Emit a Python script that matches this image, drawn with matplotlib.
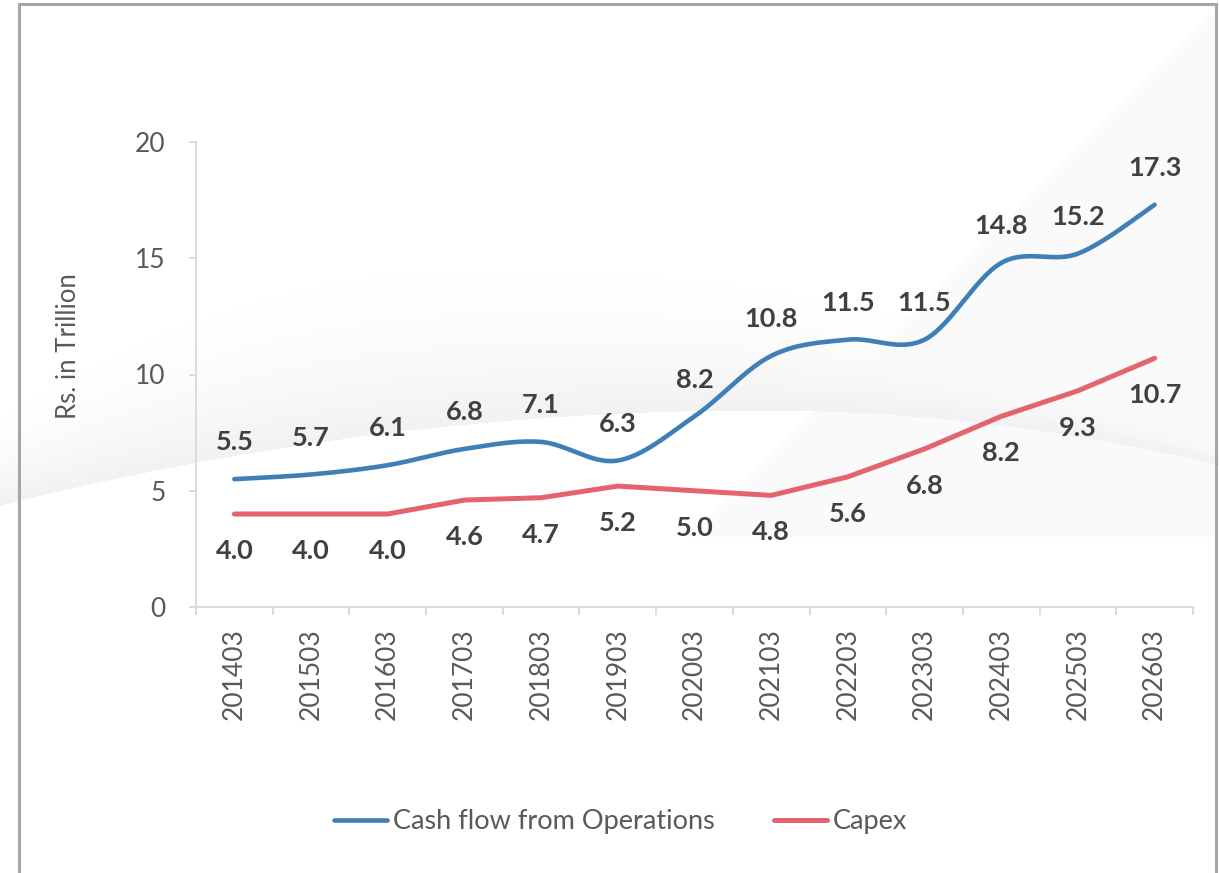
import numpy as np
import matplotlib.pyplot as plt
from matplotlib.lines import Line2D

years = ['201403', '201503', '201603', '201703', '201803', '201903', '202003',
         '202103', '202203', '202303', '202403', '202503', '202603']
cfo = [5.5, 5.7, 6.1, 6.8, 7.1, 6.3, 8.2, 10.8, 11.5, 11.5, 14.8, 15.2, 17.3]
capex = [4.0, 4.0, 4.0, 4.6, 4.7, 5.2, 5.0, 4.8, 5.6, 6.8, 8.2, 9.3, 10.7]

BLUE = '#3f7fb8'
RED = '#e5636e'
TXT = '#404040'
TICK = '#595959'
FONT = 'Lato'

W, H = 1219, 873
fig = plt.figure(figsize=(W / 100, H / 100), dpi=100)
fig.patch.set_facecolor('white')


def smooth(xs, ys, sx, sy, n=40):
    # catmull-rom style bezier through the points (like a "smoothed line")
    p = np.column_stack([np.asarray(xs, float) * sx, np.asarray(ys, float) * sy])
    out = [p[0]]
    t = np.linspace(0, 1, n)[1:, None]
    for i in range(len(p) - 1):
        p0 = p[i - 1] if i > 0 else p[i]
        p1, p2 = p[i], p[i + 1]
        p3 = p[i + 2] if i + 2 < len(p) else p[i + 1]
        c1 = p1 + (p2 - p0) / 6
        c2 = p2 - (p3 - p1) / 6
        seg = ((1 - t) ** 3) * p1 + 3 * ((1 - t) ** 2) * t * c1 + 3 * (1 - t) * t ** 2 * c2 + t ** 3 * p2
        out.extend(seg)
    out = np.array(out)
    return out[:, 0] / sx, out[:, 1] / sy


# background: faint swoosh band + diagonal panel
bg = fig.add_axes([0, 0, 1, 1], zorder=-5)
bg.set_xlim(0, W)
bg.set_ylim(H, 0)
bg.axis('off')
gx, gy = np.meshgrid(np.arange(W), np.arange(H))
img = np.ones((H, W))
up = np.where(gx < 450, 205 + 175 * ((gx - 450) / 450.0) ** 2,
              205 + 200 * ((gx - 450) / 770.0) ** 2)
lo = np.where(gx < 760, 410 + 95 * ((gx - 760) / 760.0) ** 2,
              410 + 55 * ((gx - 760) / 459.0) ** 2)
tt = (gy - up) / (lo - up)
band = (tt >= 0) & (tt <= 1)
img[band] = 1 - 0.055 * tt[band] ** 2.2
diag = (gy > 13) & (gy < 537) & (gx > 1213 - (gy - 13)) & (gx < 1214)
img[diag] = np.minimum(img[diag], 0.978)
bg.imshow(img, cmap='gray', vmin=0, vmax=1, extent=(0, W, H, 0), aspect='auto',
          interpolation='bilinear')
# outer frame
bg.plot([19, 19, 1216, 1216], [H + 5, 4, 4, H + 5], color='#a6a6a6', lw=2.2,
        solid_joinstyle='miter')

ax = fig.add_axes([196 / W, 1 - 607 / H, (1193 - 196) / W, (607 - 142) / H])
ax.set_facecolor('none')
x = np.arange(len(years))

sx, sy = smooth(x, cfo, 76.7, 23.25)
ax.plot(sx, sy, color=BLUE, lw=3.3, solid_capstyle='round', label='Cash flow from Operations')
ax.plot(x, capex, color=RED, lw=3.6, solid_capstyle='round', solid_joinstyle='round', label='Capex')

for xi, v in zip(x, cfo):
    ax.annotate(f'{v:.1f}', (xi, v), xytext=(0, 26.5), textcoords='offset points',
                ha='center', va='center', fontsize=19.5, fontweight='bold',
                color=TXT, family=FONT)
for xi, v in zip(x, capex):
    ax.annotate(f'{v:.1f}', (xi, v), xytext=(0, -26.5), textcoords='offset points',
                ha='center', va='center', fontsize=19.5, fontweight='bold',
                color=TXT, family=FONT)

ax.set_xlim(-0.5, len(years) - 0.5)
ax.set_ylim(0, 20)
ax.set_yticks([0, 5, 10, 15, 20])
ax.set_xticks(x)
ax.set_xticklabels(years, rotation=90, va='top', ha='center')
ax.set_xticks(np.arange(-0.5, len(years)), minor=True)
ax.tick_params(axis='x', which='major', length=0, pad=15, labelsize=19, labelcolor=TICK)
ax.tick_params(axis='x', which='minor', length=6, width=1.3, color='#d9d9d9')
ax.tick_params(axis='y', length=5, width=1.3, color='#d9d9d9', pad=17, labelsize=19,
               labelcolor=TICK)
for lab in ax.get_xticklabels() + ax.get_yticklabels():
    lab.set_family(FONT)
for s in ['top', 'right']:
    ax.spines[s].set_visible(False)
for s in ['left', 'bottom']:
    ax.spines[s].set_color('#d9d9d9')
    ax.spines[s].set_linewidth(1.3)

fig.text(69 / W, 1 - 346 / H, 'Rs. in Trillion', rotation=90, ha='center', va='center',
         fontsize=18.5, color=TICK, family=FONT)

handles = [Line2D([], [], color=BLUE, lw=3.3, solid_capstyle='round'),
           Line2D([], [], color=RED, lw=3.6, solid_capstyle='round')]
fig.legend(handles, ['Cash flow from Operations', 'Capex'], loc='center',
           bbox_to_anchor=(621 / W, 1 - 822 / H), ncol=2, frameon=False,
           prop={'family': FONT, 'size': 19.5}, labelcolor=TICK,
           handlelength=1.95, handletextpad=0.22, columnspacing=2.2)

fig.savefig('out.png', dpi=100, facecolor='white')
